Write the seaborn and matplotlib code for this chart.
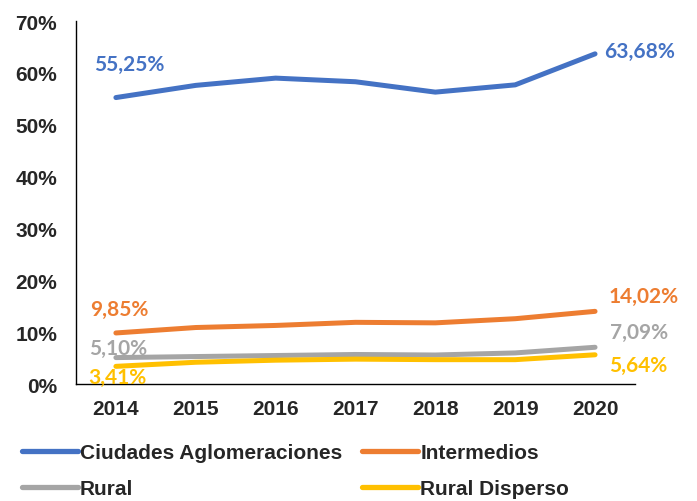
import pandas as pd
import matplotlib.pyplot as plt
import seaborn as sns

years = ["2014", "2015", "2016", "2017", "2018", "2019", "2020"]
ciudades = [55.25, 57.6, 59.0, 58.3, 56.3, 57.7, 63.68]
intermedios = [9.85, 10.9, 11.3, 11.9, 11.8, 12.6, 14.02]
rural = [5.10, 5.3, 5.5, 5.7, 5.6, 6.0, 7.09]
rural_disperso = [3.41, 4.2, 4.6, 4.8, 4.7, 4.7, 5.64]

series_names = ["Ciudades Aglomeraciones", "Intermedios", "Rural", "Rural Disperso"]
colors = ["#4472C4", "#ED7D31", "#A5A5A5", "#FFC000"]

df = pd.DataFrame({
    "year": years * 4,
    "value": ciudades + intermedios + rural + rural_disperso,
    "serie": sum([[n] * len(years) for n in series_names], []),
})

sns.set_style("white")
plt.rcParams['font.family'] = ['Liberation Sans', 'DejaVu Sans']

fig = plt.figure(figsize=(6.97, 5.02), dpi=100)
ax = fig.add_axes([0.109, 0.233, 0.802, 0.723])

sns.lineplot(data=df, x="year", y="value", hue="serie", palette=colors,
             linewidth=3.6, sort=False, ax=ax, legend=True)

ax.set_ylim(0, 70)
ax.set_xlim(-0.5, 6.5)
ax.set_yticks(range(0, 71, 10))
ax.set_yticklabels([f"{v}%" for v in range(0, 71, 10)])
ax.set_xlabel("")
ax.set_ylabel("")
ax.tick_params(axis="both", length=0, labelsize=15)
ax.tick_params(axis="y", pad=13.5)
ax.tick_params(axis="x", pad=11)
for lab in ax.get_xticklabels() + ax.get_yticklabels():
    lab.set_fontweight("bold")
for s in ["top", "right"]:
    ax.spines[s].set_visible(False)
for s in ["left", "bottom"]:
    ax.spines[s].set_color("black")
    ax.spines[s].set_linewidth(1.0)

# etiquetas de inicio y fin
labels = [
    (0, ciudades[0], "55,25%", colors[0], (13, 34)),
    (6, ciudades[6], "63,68%", colors[0], (45, 3)),
    (0, intermedios[0], "9,85%", colors[1], (3, 24)),
    (6, intermedios[6], "14,02%", colors[1], (49, 15)),
    (0, rural[0], "5,10%", colors[2], (2, 10)),
    (6, rural[6], "7,09%", colors[2], (44, 15)),
    (0, rural_disperso[0], "3,41%", colors[3], (1, -11)),
    (6, rural_disperso[6], "5,64%", colors[3], (43, -10)),
]
for x, y, txt, c, off in labels:
    ax.annotate(txt, (x, y), xytext=off, textcoords="offset pixels",
                ha="center", va="center", color=c, fontsize=15,
                fontweight="bold", family=["Lato", "DejaVu Sans"])

# leyenda en orden por filas
handles, lbls = ax.get_legend_handles_labels()
order = [0, 2, 1, 3]
leg = ax.legend([handles[i] for i in order], [lbls[i] for i in order],
                loc="upper left", bbox_to_anchor=(0.031, 0.115),
                bbox_transform=fig.transFigure, ncol=2, frameon=False,
                fontsize=15, handlelength=2.7, handletextpad=0.1,
                columnspacing=0.95, labelspacing=0.8, borderaxespad=0,
                borderpad=0)
for t in leg.get_texts():
    t.set_fontweight("bold")
for l in leg.get_lines():
    l.set_linewidth(3.8)

plt.savefig("out.png", dpi=100)
plt.close()
